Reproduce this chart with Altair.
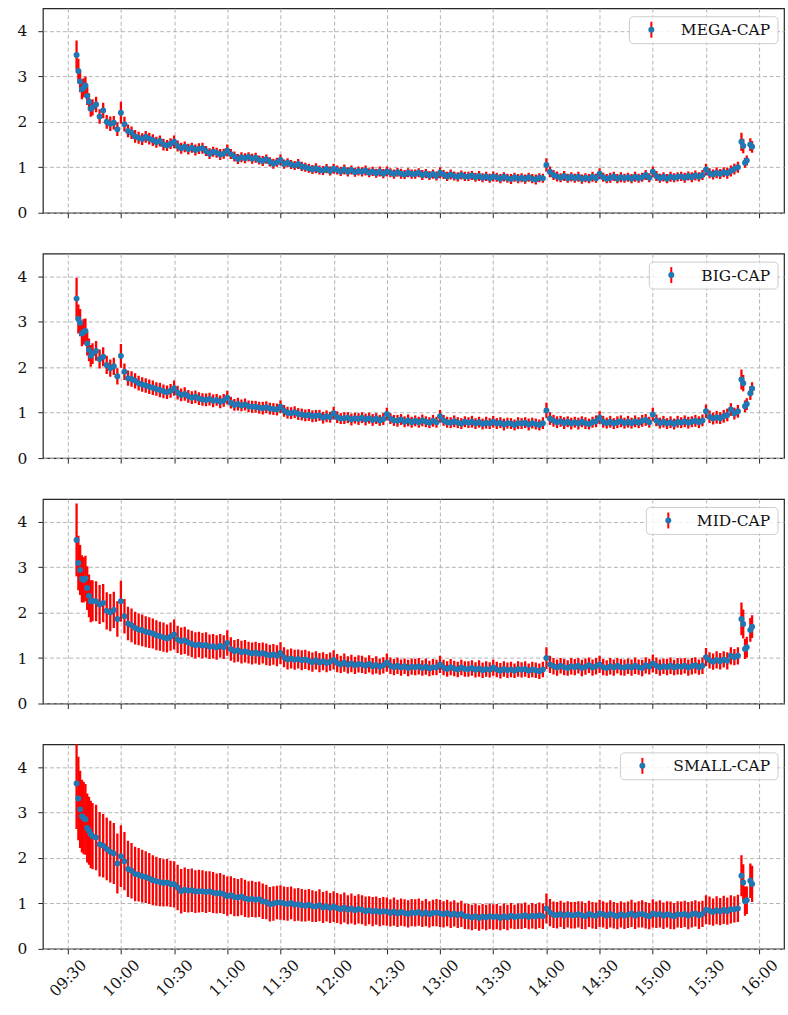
import altair as alt
import pandas as pd

# minutes after 09:30 at which each point sits
START = [5, 6, 7, 8, 9, 10, 11, 12, 13, 14]
GRID = list(range(16, 375, 2))
END = [376, 378, 380, 381, 382, 383, 385, 386]
MINUTES = START + GRID + END
TICKS = [0, 30, 60, 90, 120, 150, 180, 210, 240, 270, 300, 330, 360, 390]

NAMES = ["MEGA-CAP", "BIG-CAP", "MID-CAP", "SMALL-CAP"]

MEGA_MEAN = [
    3.47, 3.12, 2.89, 2.72, 2.75, 2.80, 2.57, 2.44, 2.29, 2.32,
    2.38, 2.12, 2.25, 2.00, 1.96, 1.98, 1.84, 2.20, 1.95, 1.80, 1.76, 1.68, 1.65, 1.62, 1.67,
    1.63, 1.60, 1.55, 1.58, 1.50, 1.48, 1.52, 1.56, 1.47, 1.42, 1.45, 1.40, 1.43, 1.38, 1.41,
    1.42, 1.36, 1.30, 1.34, 1.32, 1.28, 1.30, 1.37, 1.29, 1.24, 1.18, 1.22, 1.20, 1.23, 1.19,
    1.21, 1.16, 1.14, 1.18, 1.12, 1.08, 1.11, 1.16, 1.07, 1.10, 1.06, 1.04, 1.07, 1.02, 1.00,
    0.98, 0.95, 0.98, 0.94, 0.93, 0.97, 0.92, 0.97, 0.94, 0.91, 0.95, 0.90, 0.94, 0.89, 0.92,
    0.90, 0.93, 0.88, 0.91, 0.87, 0.91, 0.86, 0.91, 0.88, 0.85, 0.89, 0.86, 0.84, 0.88, 0.85,
    0.85, 0.88, 0.83, 0.86, 0.82, 0.85, 0.81, 0.88, 0.84, 0.80, 0.84, 0.81, 0.79, 0.83, 0.80,
    0.80, 0.82, 0.78, 0.81, 0.77, 0.80, 0.76, 0.80, 0.78, 0.75, 0.79, 0.76, 0.74, 0.78, 0.75,
    0.77, 0.74, 0.78, 0.75, 0.73, 0.77, 0.76, 1.05, 0.90, 0.83, 0.80, 0.77, 0.81, 0.76, 0.79,
    0.76, 0.79, 0.74, 0.77, 0.75, 0.79, 0.76, 0.86, 0.78, 0.75, 0.77, 0.80, 0.75, 0.78, 0.76,
    0.78, 0.75, 0.79, 0.76, 0.78, 0.83, 0.77, 0.90, 0.81, 0.76, 0.79, 0.75, 0.79, 0.77, 0.79,
    0.80, 0.77, 0.81, 0.78, 0.82, 0.79, 0.83, 0.95, 0.87, 0.84, 0.88, 0.85, 0.89, 0.87, 0.92,
    0.96, 1.00, 1.56, 1.47, 1.10, 1.15, 1.50, 1.45,
]
MEGA_ERR = [
    0.32, 0.27, 0.24, 0.22, 0.21, 0.20, 0.20, 0.19, 0.18, 0.18,
    0.17, 0.16, 0.17, 0.15, 0.16, 0.15, 0.15, 0.24, 0.16, 0.14, 0.14, 0.14, 0.13, 0.13, 0.13,
    0.13, 0.13, 0.12, 0.12, 0.13, 0.12, 0.12, 0.14, 0.12, 0.12, 0.12, 0.12, 0.11, 0.12, 0.12,
    0.12, 0.11, 0.12, 0.11, 0.11, 0.12, 0.11, 0.13, 0.11, 0.11, 0.11, 0.11, 0.11, 0.10, 0.11,
    0.11, 0.10, 0.11, 0.10, 0.10, 0.11, 0.10, 0.12, 0.10, 0.10, 0.10, 0.10, 0.11, 0.10, 0.10,
    0.10, 0.10, 0.11, 0.10, 0.10, 0.10, 0.10, 0.11, 0.10, 0.10, 0.11, 0.10, 0.10, 0.10, 0.10,
    0.10, 0.11, 0.10, 0.10, 0.10, 0.11, 0.10, 0.11, 0.10, 0.10, 0.10, 0.11, 0.10, 0.10, 0.10,
    0.10, 0.10, 0.11, 0.10, 0.10, 0.10, 0.10, 0.12, 0.10, 0.10, 0.11, 0.10, 0.10, 0.10, 0.10,
    0.10, 0.10, 0.10, 0.11, 0.10, 0.10, 0.10, 0.11, 0.10, 0.10, 0.10, 0.10, 0.11, 0.10, 0.10,
    0.10, 0.10, 0.10, 0.10, 0.11, 0.10, 0.10, 0.15, 0.12, 0.11, 0.11, 0.10, 0.11, 0.10, 0.10,
    0.10, 0.11, 0.10, 0.10, 0.10, 0.11, 0.10, 0.12, 0.10, 0.10, 0.11, 0.10, 0.10, 0.11, 0.10,
    0.10, 0.10, 0.11, 0.10, 0.10, 0.11, 0.10, 0.12, 0.11, 0.10, 0.10, 0.10, 0.11, 0.10, 0.10,
    0.10, 0.11, 0.10, 0.11, 0.11, 0.10, 0.11, 0.13, 0.11, 0.11, 0.12, 0.11, 0.11, 0.12, 0.12,
    0.12, 0.12, 0.20, 0.16, 0.11, 0.11, 0.14, 0.13,
]

BIG_MEAN = [
    3.51, 3.06, 2.98, 2.74, 2.78, 2.80, 2.52, 2.38, 2.25, 2.30,
    2.36, 2.18, 2.23, 2.05, 1.98, 2.02, 1.80, 2.25, 1.90, 1.76, 1.74, 1.70, 1.65, 1.62, 1.60,
    1.57, 1.55, 1.52, 1.50, 1.47, 1.45, 1.48, 1.54, 1.44, 1.39, 1.41, 1.36, 1.33, 1.35, 1.31,
    1.29, 1.28, 1.30, 1.26, 1.28, 1.24, 1.27, 1.33, 1.22, 1.17, 1.19, 1.16, 1.18, 1.14, 1.13,
    1.13, 1.11, 1.10, 1.12, 1.09, 1.08, 1.07, 1.13, 1.04, 1.00, 0.99, 1.01, 0.97, 0.96, 0.94,
    0.95, 0.92, 0.93, 0.94, 0.89, 0.92, 0.90, 0.99, 0.90, 0.87, 0.88, 0.89, 0.85, 0.88, 0.86,
    0.89, 0.85, 0.88, 0.84, 0.87, 0.83, 0.86, 0.97, 0.87, 0.83, 0.82, 0.85, 0.80, 0.83, 0.79,
    0.82, 0.79, 0.83, 0.80, 0.78, 0.82, 0.79, 0.92, 0.83, 0.79, 0.78, 0.81, 0.78, 0.76, 0.80,
    0.78, 0.80, 0.76, 0.79, 0.75, 0.78, 0.76, 0.80, 0.76, 0.78, 0.74, 0.77, 0.76, 0.73, 0.77,
    0.76, 0.78, 0.74, 0.77, 0.75, 0.73, 0.77, 1.05, 0.87, 0.82, 0.79, 0.81, 0.77, 0.80, 0.76,
    0.79, 0.76, 0.80, 0.77, 0.75, 0.79, 0.81, 0.89, 0.80, 0.77, 0.80, 0.76, 0.79, 0.81, 0.77,
    0.80, 0.77, 0.81, 0.78, 0.82, 0.84, 0.79, 0.96, 0.83, 0.77, 0.80, 0.76, 0.79, 0.75, 0.80,
    0.78, 0.81, 0.78, 0.80, 0.82, 0.79, 0.83, 1.03, 0.91, 0.87, 0.90, 0.88, 0.92, 0.95, 1.07,
    0.98, 1.03, 1.73, 1.65, 1.14, 1.19, 1.43, 1.53,
]
BIG_ERR = [
    0.46, 0.32, 0.30, 0.28, 0.28, 0.27, 0.26, 0.25, 0.24, 0.23,
    0.22, 0.21, 0.21, 0.20, 0.19, 0.19, 0.18, 0.26, 0.18, 0.17, 0.17, 0.17, 0.16, 0.16, 0.16,
    0.16, 0.16, 0.15, 0.16, 0.15, 0.15, 0.15, 0.17, 0.15, 0.14, 0.15, 0.14, 0.14, 0.14, 0.14,
    0.14, 0.14, 0.14, 0.14, 0.13, 0.14, 0.14, 0.15, 0.13, 0.13, 0.14, 0.13, 0.13, 0.13, 0.13,
    0.13, 0.13, 0.14, 0.13, 0.13, 0.13, 0.13, 0.14, 0.13, 0.13, 0.13, 0.13, 0.13, 0.13, 0.13,
    0.13, 0.13, 0.13, 0.12, 0.13, 0.13, 0.12, 0.14, 0.13, 0.12, 0.13, 0.12, 0.13, 0.12, 0.13,
    0.12, 0.13, 0.12, 0.13, 0.12, 0.12, 0.13, 0.14, 0.12, 0.12, 0.13, 0.12, 0.12, 0.13, 0.12,
    0.12, 0.12, 0.13, 0.12, 0.12, 0.13, 0.12, 0.14, 0.12, 0.12, 0.12, 0.13, 0.12, 0.12, 0.12,
    0.12, 0.13, 0.12, 0.12, 0.12, 0.13, 0.12, 0.13, 0.12, 0.12, 0.13, 0.12, 0.12, 0.12, 0.13,
    0.12, 0.12, 0.13, 0.12, 0.12, 0.12, 0.13, 0.17, 0.14, 0.13, 0.13, 0.12, 0.13, 0.12, 0.13,
    0.12, 0.13, 0.12, 0.13, 0.12, 0.12, 0.13, 0.14, 0.13, 0.12, 0.13, 0.12, 0.13, 0.13, 0.12,
    0.13, 0.12, 0.13, 0.12, 0.13, 0.13, 0.12, 0.15, 0.13, 0.12, 0.13, 0.12, 0.13, 0.12, 0.13,
    0.12, 0.13, 0.13, 0.12, 0.13, 0.13, 0.13, 0.15, 0.14, 0.13, 0.14, 0.13, 0.14, 0.14, 0.14,
    0.13, 0.14, 0.22, 0.18, 0.13, 0.13, 0.15, 0.14,
]

MID_MEAN = [
    3.60, 3.09, 2.94, 2.74, 2.72, 2.75, 2.54, 2.37, 2.25, 2.26,
    2.25, 2.18, 2.21, 2.04, 2.00, 2.06, 1.86, 2.25, 1.92, 1.76, 1.72, 1.66, 1.63, 1.61, 1.58,
    1.56, 1.54, 1.50, 1.48, 1.46, 1.43, 1.47, 1.52, 1.41, 1.37, 1.39, 1.34, 1.31, 1.28, 1.30,
    1.27, 1.29, 1.25, 1.26, 1.23, 1.27, 1.24, 1.33, 1.20, 1.15, 1.17, 1.13, 1.15, 1.12, 1.10,
    1.12, 1.09, 1.11, 1.08, 1.06, 1.08, 1.05, 1.11, 1.02, 0.97, 0.99, 0.96, 0.98, 0.95, 0.97,
    0.94, 0.91, 0.95, 0.90, 0.93, 0.89, 0.92, 0.96, 0.89, 0.86, 0.90, 0.85, 0.88, 0.84, 0.87,
    0.86, 0.83, 0.87, 0.82, 0.85, 0.81, 0.84, 0.90, 0.83, 0.80, 0.83, 0.79, 0.82, 0.78, 0.81,
    0.80, 0.82, 0.78, 0.81, 0.77, 0.80, 0.79, 0.86, 0.79, 0.76, 0.80, 0.77, 0.75, 0.79, 0.76,
    0.76, 0.78, 0.74, 0.77, 0.73, 0.76, 0.74, 0.79, 0.75, 0.72, 0.76, 0.73, 0.75, 0.72, 0.76,
    0.74, 0.76, 0.72, 0.75, 0.73, 0.71, 0.75, 1.00, 0.86, 0.82, 0.79, 0.83, 0.80, 0.78, 0.82,
    0.80, 0.83, 0.78, 0.81, 0.84, 0.79, 0.82, 0.86, 0.80, 0.78, 0.82, 0.79, 0.83, 0.80, 0.79,
    0.82, 0.79, 0.83, 0.80, 0.78, 0.84, 0.81, 0.88, 0.83, 0.79, 0.82, 0.80, 0.83, 0.79, 0.82,
    0.81, 0.83, 0.79, 0.82, 0.84, 0.80, 0.83, 1.02, 0.95, 0.92, 0.96, 0.93, 0.97, 0.94, 1.05,
    1.02, 1.05, 1.86, 1.75, 1.20, 1.24, 1.62, 1.69,
]
MID_ERR = [
    0.80, 0.60, 0.55, 0.52, 0.50, 0.50, 0.48, 0.47, 0.46, 0.45,
    0.44, 0.43, 0.42, 0.41, 0.41, 0.40, 0.39, 0.45, 0.38, 0.37, 0.37, 0.36, 0.35, 0.35, 0.34,
    0.34, 0.33, 0.33, 0.32, 0.32, 0.31, 0.31, 0.33, 0.30, 0.30, 0.30, 0.29, 0.29, 0.29, 0.28,
    0.28, 0.28, 0.27, 0.27, 0.27, 0.26, 0.26, 0.28, 0.26, 0.25, 0.25, 0.25, 0.25, 0.24, 0.24,
    0.24, 0.24, 0.23, 0.24, 0.23, 0.23, 0.23, 0.24, 0.22, 0.22, 0.22, 0.22, 0.21, 0.22, 0.21,
    0.21, 0.21, 0.20, 0.21, 0.20, 0.20, 0.20, 0.21, 0.20, 0.19, 0.20, 0.19, 0.19, 0.19, 0.19,
    0.19, 0.18, 0.19, 0.18, 0.19, 0.18, 0.18, 0.20, 0.18, 0.18, 0.18, 0.18, 0.17, 0.18, 0.18,
    0.18, 0.18, 0.17, 0.18, 0.17, 0.18, 0.17, 0.19, 0.17, 0.17, 0.18, 0.17, 0.17, 0.17, 0.17,
    0.17, 0.17, 0.17, 0.18, 0.17, 0.17, 0.17, 0.18, 0.17, 0.17, 0.17, 0.17, 0.17, 0.16, 0.17,
    0.17, 0.17, 0.16, 0.17, 0.17, 0.17, 0.17, 0.24, 0.19, 0.18, 0.18, 0.17, 0.18, 0.17, 0.18,
    0.18, 0.17, 0.18, 0.18, 0.17, 0.18, 0.18, 0.19, 0.18, 0.17, 0.18, 0.18, 0.17, 0.18, 0.18,
    0.17, 0.18, 0.18, 0.17, 0.18, 0.18, 0.17, 0.20, 0.18, 0.18, 0.17, 0.18, 0.18, 0.17, 0.18,
    0.18, 0.17, 0.18, 0.18, 0.18, 0.17, 0.18, 0.20, 0.18, 0.18, 0.19, 0.18, 0.18, 0.19, 0.19,
    0.18, 0.19, 0.36, 0.32, 0.22, 0.23, 0.26, 0.25,
]

SMALL_MEAN = [
    3.64, 3.31, 3.07, 2.92, 2.88, 2.85, 2.66, 2.60, 2.52, 2.48,
    2.45, 2.30, 2.27, 2.20, 2.14, 2.10, 1.88, 2.04, 1.93, 1.76, 1.72, 1.65, 1.63, 1.60, 1.58,
    1.55, 1.51, 1.49, 1.47, 1.45, 1.46, 1.43, 1.42, 1.35, 1.27, 1.30, 1.28, 1.29, 1.26, 1.27,
    1.27, 1.25, 1.26, 1.24, 1.22, 1.23, 1.20, 1.16, 1.18, 1.14, 1.13, 1.15, 1.11, 1.09, 1.10,
    1.08, 1.09, 1.05, 1.03, 0.98, 1.00, 1.02, 1.02, 1.00, 0.99, 1.01, 0.97, 0.98, 0.96, 0.95,
    0.97, 0.94, 0.93, 0.96, 0.91, 0.94, 0.90, 0.93, 0.90, 0.87, 0.91, 0.86, 0.89, 0.85, 0.88,
    0.86, 0.83, 0.85, 0.82, 0.84, 0.81, 0.83, 0.82, 0.79, 0.82, 0.78, 0.81, 0.79, 0.77, 0.80,
    0.79, 0.81, 0.77, 0.80, 0.76, 0.79, 0.80, 0.78, 0.76, 0.79, 0.75, 0.78, 0.74, 0.77, 0.72,
    0.71, 0.69, 0.72, 0.68, 0.71, 0.69, 0.72, 0.70, 0.71, 0.68, 0.72, 0.69, 0.73, 0.70, 0.72,
    0.72, 0.74, 0.70, 0.73, 0.71, 0.74, 0.72, 0.89, 0.80, 0.75, 0.74, 0.77, 0.73, 0.76, 0.74,
    0.74, 0.76, 0.74, 0.72, 0.77, 0.74, 0.73, 0.78, 0.76, 0.73, 0.77, 0.74, 0.72, 0.76, 0.73,
    0.75, 0.78, 0.73, 0.76, 0.77, 0.74, 0.72, 0.78, 0.75, 0.77, 0.73, 0.76, 0.74, 0.72, 0.76,
    0.75, 0.77, 0.73, 0.76, 0.78, 0.74, 0.77, 0.86, 0.84, 0.81, 0.85, 0.82, 0.86, 0.83, 0.87,
    0.87, 0.89, 1.61, 1.46, 1.05, 1.07, 1.50, 1.43,
]
SMALL_ERR = [
    1.00, 0.92, 0.85, 0.80, 0.80, 0.78, 0.76, 0.75, 0.74, 0.73,
    0.72, 0.71, 0.70, 0.69, 0.68, 0.67, 0.66, 0.68, 0.64, 0.62, 0.61, 0.60, 0.59, 0.58, 0.57,
    0.56, 0.55, 0.54, 0.53, 0.52, 0.52, 0.51, 0.51, 0.50, 0.49, 0.49, 0.48, 0.48, 0.47, 0.47,
    0.46, 0.46, 0.45, 0.45, 0.44, 0.44, 0.43, 0.43, 0.42, 0.42, 0.41, 0.41, 0.41, 0.40, 0.40,
    0.39, 0.39, 0.39, 0.38, 0.38, 0.38, 0.37, 0.38, 0.37, 0.37, 0.36, 0.36, 0.36, 0.36, 0.35,
    0.35, 0.35, 0.34, 0.35, 0.34, 0.34, 0.33, 0.34, 0.33, 0.33, 0.33, 0.32, 0.33, 0.32, 0.32,
    0.32, 0.32, 0.31, 0.32, 0.31, 0.31, 0.31, 0.31, 0.30, 0.31, 0.30, 0.30, 0.30, 0.30, 0.30,
    0.30, 0.30, 0.29, 0.30, 0.29, 0.29, 0.30, 0.30, 0.29, 0.29, 0.29, 0.29, 0.28, 0.29, 0.28,
    0.28, 0.28, 0.28, 0.28, 0.28, 0.28, 0.28, 0.28, 0.28, 0.27, 0.28, 0.28, 0.28, 0.27, 0.28,
    0.28, 0.28, 0.27, 0.28, 0.28, 0.28, 0.28, 0.33, 0.30, 0.29, 0.29, 0.29, 0.29, 0.29, 0.29,
    0.29, 0.29, 0.30, 0.29, 0.29, 0.29, 0.29, 0.30, 0.29, 0.29, 0.30, 0.29, 0.29, 0.29, 0.29,
    0.29, 0.30, 0.29, 0.29, 0.30, 0.29, 0.29, 0.31, 0.29, 0.30, 0.29, 0.29, 0.30, 0.29, 0.29,
    0.29, 0.29, 0.30, 0.29, 0.29, 0.30, 0.29, 0.32, 0.31, 0.30, 0.31, 0.30, 0.31, 0.30, 0.31,
    0.29, 0.30, 0.45, 0.40, 0.32, 0.30, 0.38, 0.40,
]

SERIES = [(MEGA_MEAN, MEGA_ERR), (BIG_MEAN, BIG_ERR), (MID_MEAN, MID_ERR), (SMALL_MEAN, SMALL_ERR)]
LEGEND_TEXT_W = [89, 69, 72, 98]   # approximate rendered widths of the legend labels (px)

FONT = "DejaVu Serif"
W, H = 743, 205
BLUE = "#1f77b4"


def panel(name, mean, err, text_w, show_labels):
    df = pd.DataFrame({"m": MINUTES, "v": mean, "e": err})
    xaxis = alt.Axis(
        values=TICKS,
        labels=show_labels,
        labelExpr="timeFormat(datetime(2000, 0, 1, 9, 30 + datum.value), '%H:%M')",
        labelAngle=-45, labelAlign="center", labelBaseline="middle",
        labelPadding=24, labelOverlap=False, labelBound=False, labelFlush=False,
        title=None,
    )
    yaxis = alt.Axis(values=[0, 1, 2, 3, 4], labelPadding=11, minExtent=37, maxExtent=37, title=None)
    xs = alt.Scale(domain=[-14, 404], nice=False, zero=False)
    ys = alt.Scale(domain=[0, 4.5], nice=False, zero=False)

    base = alt.Chart(df)
    bars = base.transform_calculate(
        lo="datum.v - datum.e", hi="datum.v + datum.e"
    ).mark_rule(color="#ff0000", strokeWidth=2.3, clip=True).encode(
        x=alt.X("m:Q", scale=xs, axis=xaxis),
        y=alt.Y("lo:Q", scale=ys, axis=yaxis),
        y2="hi:Q",
    )
    dots = base.mark_circle(color=BLUE, size=36, opacity=1, clip=True).encode(
        x=alt.X("m:Q", scale=xs, axis=xaxis),
        y=alt.Y("v:Q", scale=ys, axis=yaxis),
    )

    ldf = pd.DataFrame({"t": [name]})
    text_right = 729
    text_left = text_right - text_w
    box_left = text_left - 52
    sym_x = text_left - 30
    lbox = alt.Chart(ldf).mark_rect(
        fill="white", fillOpacity=0.8, stroke="#cccccc", strokeWidth=1, cornerRadius=4
    ).encode(x=alt.value(box_left), x2=alt.value(737), y=alt.value(8.5), y2=alt.value(35.5))
    lrule = alt.Chart(ldf).mark_rule(color="#ff0000", strokeWidth=2).encode(
        x=alt.value(sym_x), y=alt.value(13.5), y2=alt.value(29.5)
    )
    ldot = alt.Chart(ldf).mark_circle(color=BLUE, size=36, opacity=1).encode(
        x=alt.value(sym_x), y=alt.value(21.5)
    )
    ltext = alt.Chart(ldf).mark_text(
        align="right", baseline="middle", font=FONT, fontSize=15.5, color="#111111"
    ).encode(x=alt.value(text_right), y=alt.value(22), text="t:N")

    return alt.layer(bars, dots, lbox, lrule, ldot, ltext).properties(width=W, height=H)


panels = [
    panel(NAMES[i], SERIES[i][0], SERIES[i][1], LEGEND_TEXT_W[i], i == 3)
    for i in range(4)
]

chart = alt.vconcat(*panels, spacing=41, bounds="flush").properties(
    padding={"left": 5, "top": 6, "right": 3, "bottom": 5}
).configure_view(
    stroke="#262626", strokeWidth=1.2
).configure_axis(
    labelFont=FONT, labelFontSize=15.5, labelColor="#111111",
    domain=False, ticks=True, tickSize=5, tickWidth=1, tickColor="#262626",
    grid=True, gridColor="#b4b4b4", gridDash=[4, 2.5], gridWidth=1,
)

chart.save("out.html", embed_options={"renderer": "svg", "actions": False})
